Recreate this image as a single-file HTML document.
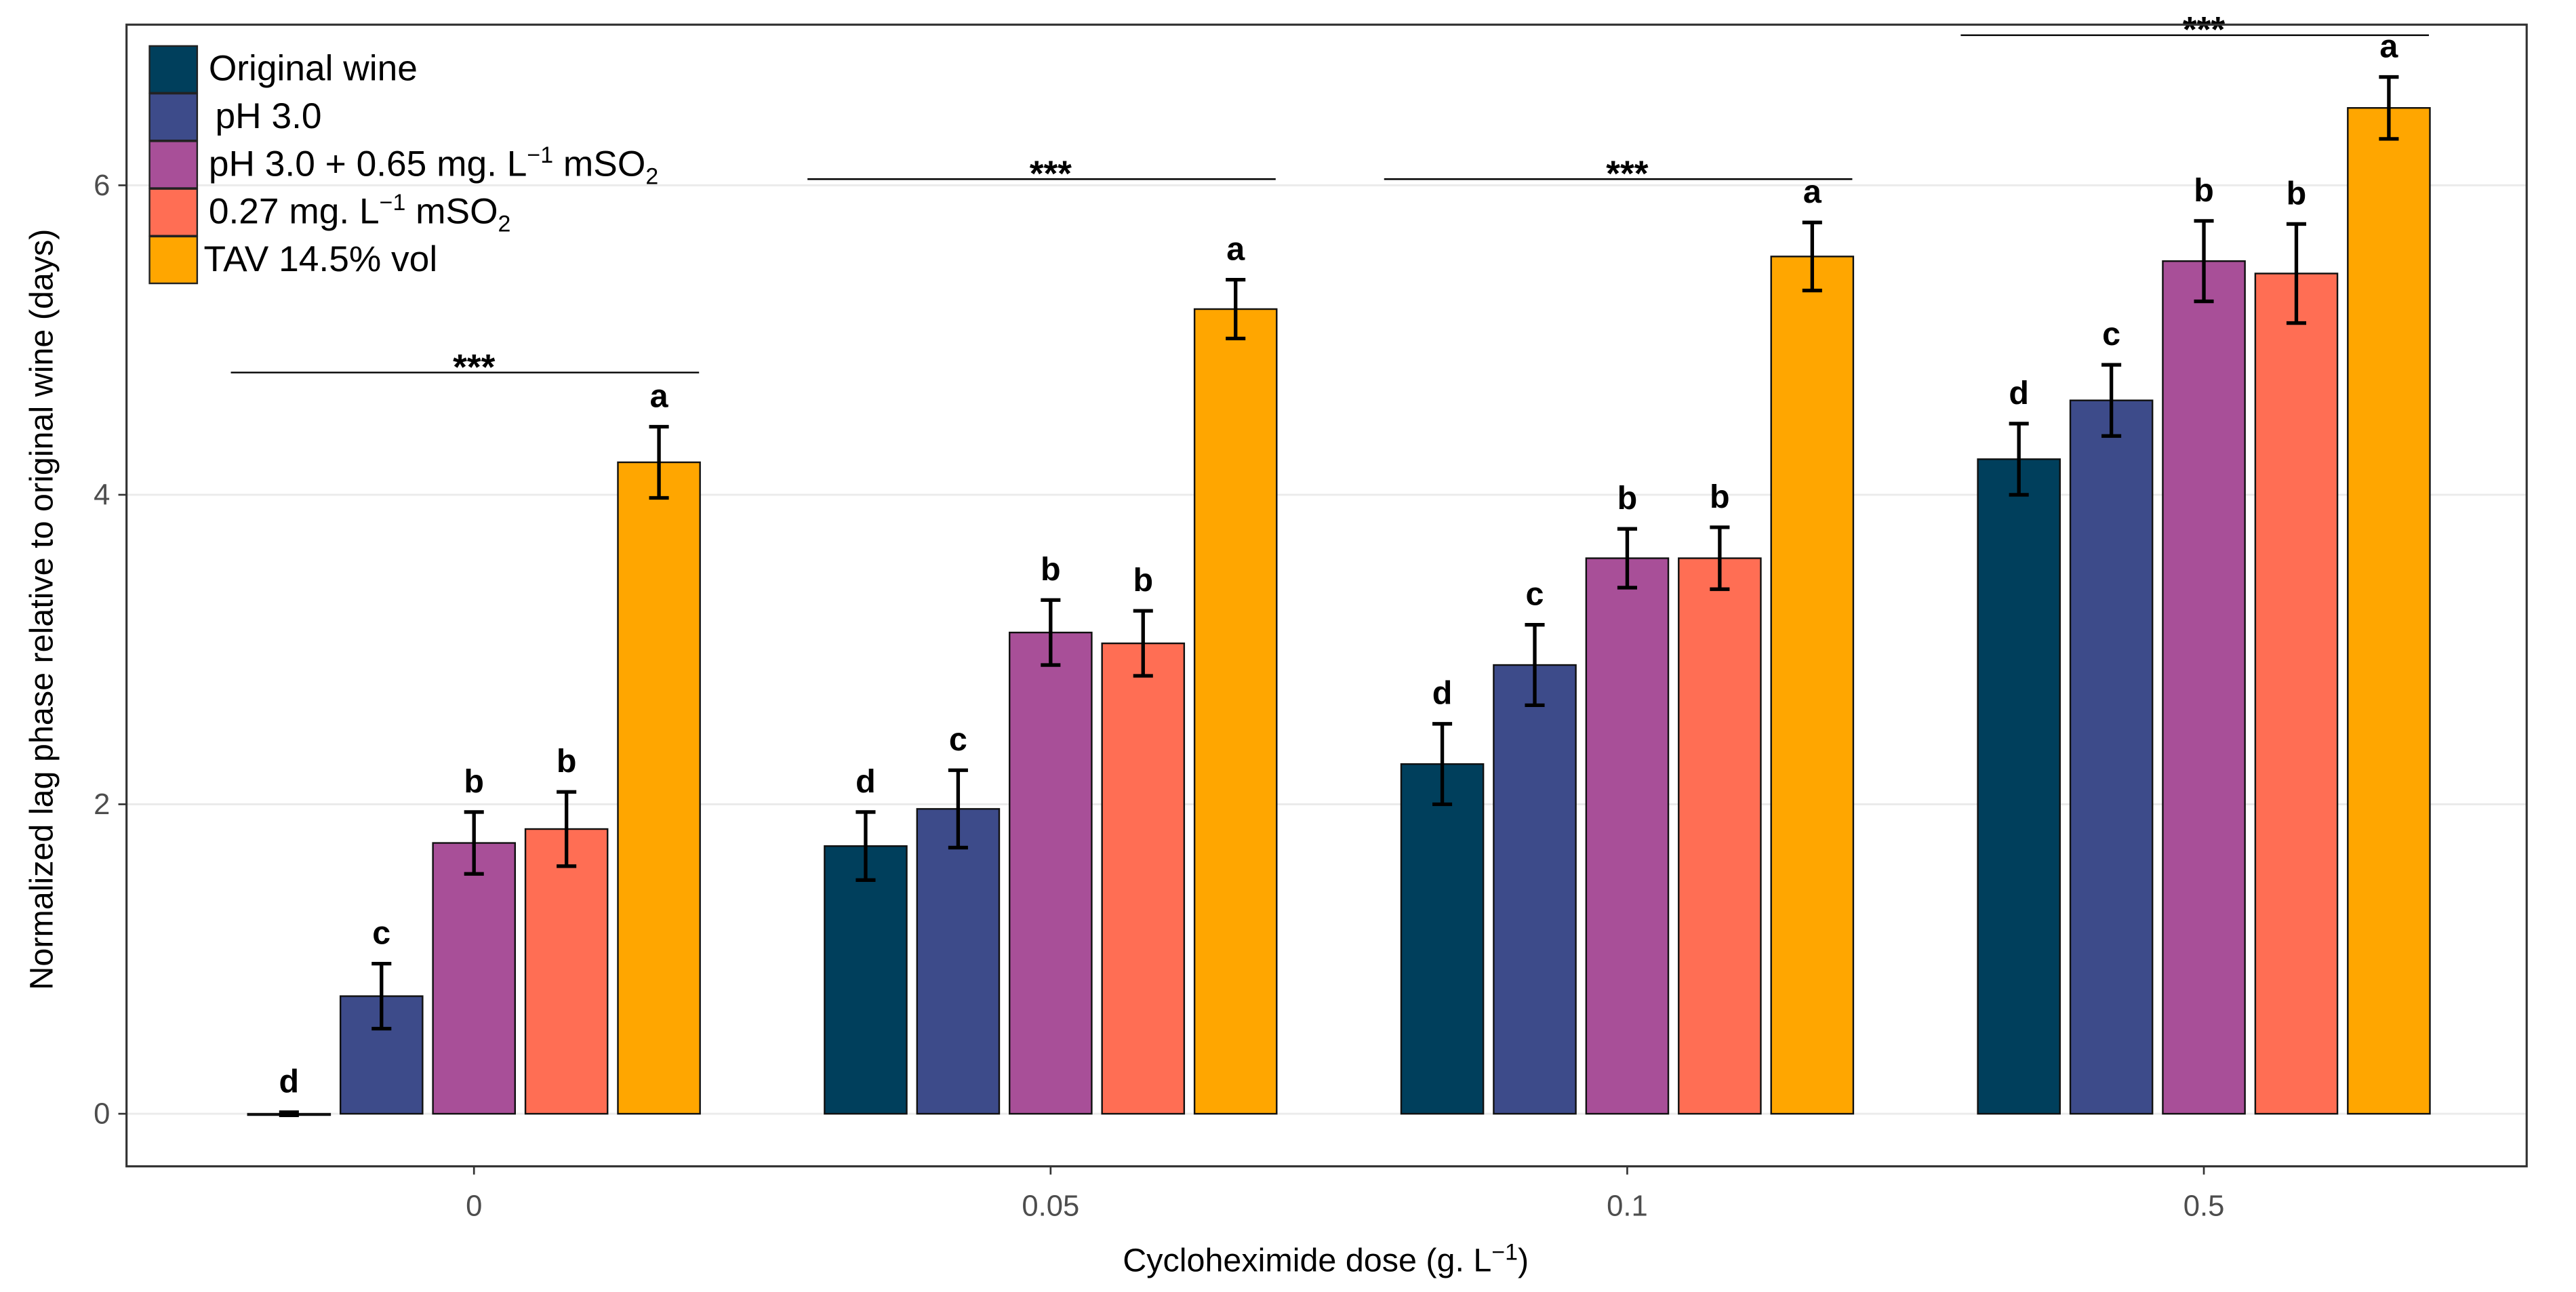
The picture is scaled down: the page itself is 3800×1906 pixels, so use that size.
<!DOCTYPE html>
<html><head><meta charset="utf-8"><style>
html,body{margin:0;padding:0;background:#fff}
svg{display:block}
text{font-family:"Liberation Sans Narrow","Liberation Sans",sans-serif}
</style></head><body>
<svg id="chart" width="3800" height="1906" viewBox="0 0 1568 786.5" xmlns="http://www.w3.org/2000/svg">
<rect x="0" y="0" width="1568" height="786.5" fill="#fff"/>
<g id="grid"></g>
<g id="bars"></g>
<rect x="77" y="15" width="1461" height="695" fill="none" stroke="#333" stroke-width="1.3"/>
<g id="axes"></g>
<text x="807" y="774" text-anchor="middle" font-size="20" fill="#000" style="font-family:'Liberation Sans',sans-serif">Cycloheximide dose (g. L<tspan font-size="14" dy="-7">−1</tspan><tspan dy="7">)</tspan></text>
<text transform="translate(32,371) rotate(-90)" text-anchor="middle" font-size="20" fill="#000" style="font-family:'Liberation Sans',sans-serif">Normalized lag phase relative to original wine (days)</text>
<g id="legend"></g>
</svg>
<script>
const categories = ["0", "0.05", "0.1", "0.5"];
const seriesNames = ["Original wine", "pH 3.0", "pH 3.0 + 0.65 mg. L", "0.27 mg. L", "TAV 14.5% vol"];
const seriesColors = ["#003f5c", "#3d4b8a", "#a84f98", "#ff6e54", "#ffa600"];
const valOriginal = [0.0, 1.73, 2.26, 4.23];
const valPH = [0.76, 1.97, 2.90, 4.61];
const valPHSO2 = [1.75, 3.11, 3.59, 5.51];
const valSO2 = [1.84, 3.04, 3.59, 5.43];
const valTAV = [4.21, 5.20, 5.54, 6.50];
const errOriginal = [0.01, 0.22, 0.26, 0.23];
const errPH = [0.21, 0.25, 0.26, 0.23];
const errPHSO2 = [0.20, 0.21, 0.19, 0.26];
const errSO2 = [0.24, 0.21, 0.20, 0.32];
const errTAV = [0.23, 0.19, 0.22, 0.20];
const letOriginal = ["d", "d", "d", "d"];
const letPH = ["c", "c", "c", "c"];
const letPHSO2 = ["b", "b", "b", "b"];
const letSO2 = ["b", "b", "b", "b"];
const letTAV = ["a", "a", "a", "a"];
const sigLevels = [4.79, 6.04, 6.04, 6.97];
const sigLabels = ["***", "***", "***", "***"];
const yTicks = [0, 2, 4, 6];

const vals = [valOriginal, valPH, valPHSO2, valSO2, valTAV];
const errs = [errOriginal, errPH, errPHSO2, errSO2, errTAV];
const lets = [letOriginal, letPH, letPHSO2, letSO2, letTAV];
const NS = "http://www.w3.org/2000/svg";
function y(v){ return 678 - v * 94.2; }
function x(ci){ return 288.5 + ci * 351; }
const pitch = 56.3, bw = 50;
function mk(tag, attrs, parent){
  const el = document.createElementNS(NS, tag);
  for (const k in attrs) el.setAttribute(k, attrs[k]);
  parent.appendChild(el);
  return el;
}
const grid = document.getElementById('grid');
const bars = document.getElementById('bars');
const axes = document.getElementById('axes');
const legend = document.getElementById('legend');
yTicks.forEach(t => {
  const l = mk('line', {x1:77, x2:1538, y1:y(t), y2:y(t), stroke:'#ebebeb', 'stroke-width':1.2}, grid);
  
  
  const tk = mk('line', {x1:72, x2:77, y1:y(t), y2:y(t), stroke:'#333', 'stroke-width':1.1}, axes);
  
  
  const tx = mk('text', {x:67, y:y(t)+6, 'text-anchor':'end', 'font-size':18, fill:'#4d4d4d'}, axes);
  tx.textContent = t;
  
  
});
categories.forEach((c, ci) => {
  const cx = x(ci);
  const tk = mk('line', {x1:cx, x2:cx, y1:710, y2:715, stroke:'#333', 'stroke-width':1.1}, axes);
  
  
  const tx = mk('text', {x:cx, y:740, 'text-anchor':'middle', 'font-size':18, fill:'#4d4d4d'}, axes);
  tx.textContent = c;
  
  
  for (let s = 0; s < 5; s++) {
    const bc = cx + (s - 2) * pitch;
    const v = vals[s][ci], e = errs[s][ci];
    const r = mk('rect', {x:bc - bw/2, y:y(v), width:bw, height:Math.max(y(0)-y(v),0.8), fill:seriesColors[s], stroke:'#111', 'stroke-width':1}, bars);
    
    
    const eg = mk('path', {d:`M${bc-6},${y(v+e)}H${bc+6}M${bc},${y(v+e)}V${y(v-e)}M${bc-6},${y(v-e)}H${bc+6}`, stroke:'#000', 'stroke-width':2.2, fill:'none'}, bars);
    
    
    const lt = mk('text', {x:bc, y:y(v+e) - 12, 'text-anchor':'middle', 'font-size':20, 'font-weight':'bold', fill:'#000'}, bars);
    lt.textContent = lets[s][ci];
    
    
  }
  const sl = mk('line', {x1:cx - 148, x2:cx + 137, y1:y(sigLevels[ci]), y2:y(sigLevels[ci]), stroke:'#000', 'stroke-width':1}, bars);
  
  
  const st = mk('text', {x:cx, y:y(sigLevels[ci]) + 4, 'text-anchor':'middle', 'font-size':22, 'font-weight':'bold', fill:'#000'}, bars);
  st.textContent = sigLabels[ci];
  
  
});
const lrows = [28, 57, 86, 115, 144];
seriesNames.forEach((n, s) => {
  const r = mk('rect', {x:91, y:lrows[s], width:29, height:28.5, fill:seriesColors[s], stroke:'#222', 'stroke-width':1}, legend);
  
  
  const t = mk('text', {x: s === 4 ? 124 : (s === 1 ? 131 : 127), y:lrows[s] + 21, 'font-size':22, fill:'#000'}, legend);
  
  
  if (s === 2 || s === 3) {
    t.innerHTML = n + '<tspan font-size="14" dy="-8">−1</tspan><tspan dy="8"> mSO</tspan><tspan font-size="14" dy="5">2</tspan>';
  } else {
    t.textContent = n;
  }
});
</script>
</body></html>
